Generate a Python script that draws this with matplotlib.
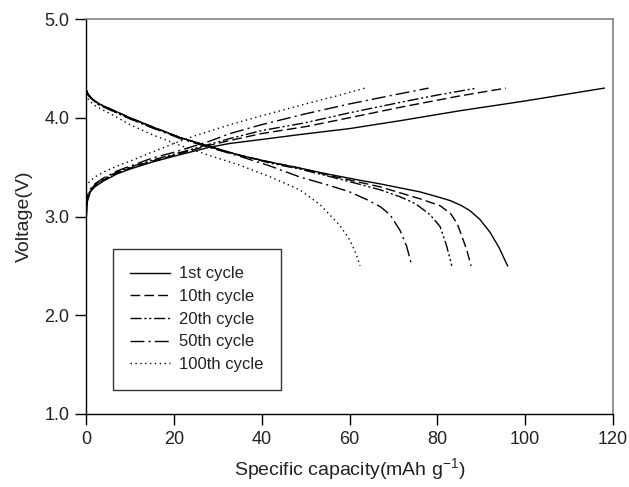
import matplotlib
matplotlib.use("Agg")
import matplotlib.pyplot as plt

plt.rcParams['font.family'] = ['Liberation Sans', 'DejaVu Sans']

labels = ["1st cycle", "10th cycle", "20th cycle", "50th cycle", "100th cycle"]

# Charge curves
c1_x = [0, 0.3, 1, 2, 4, 7, 10, 15, 20, 28, 32.8, 40, 48.7, 60, 71.5, 85, 100, 118]
c1_v = [2.93, 3.15, 3.25, 3.30, 3.36, 3.43, 3.48, 3.55, 3.61, 3.70, 3.74, 3.78, 3.83, 3.89, 3.97, 4.07, 4.17, 4.30]
c10_x = [0, 0.3, 1, 2, 4, 7, 10, 15, 20, 28, 32.8, 40, 50, 60, 72, 85, 95.6]
c10_v = [2.98, 3.17, 3.26, 3.31, 3.37, 3.44, 3.49, 3.56, 3.62, 3.72, 3.77, 3.84, 3.91, 4.00, 4.11, 4.22, 4.30]
c20_x = [0, 0.3, 1, 2, 4, 7, 10, 15, 20, 28, 32.8, 40, 50, 60, 72, 80, 89]
c20_v = [3.05, 3.19, 3.27, 3.32, 3.38, 3.45, 3.50, 3.57, 3.63, 3.73, 3.79, 3.87, 3.95, 4.05, 4.16, 4.23, 4.30]
c50_x = [0, 0.3, 1, 2, 4, 7, 10, 15, 20, 28, 32.8, 40, 50, 60, 70, 78]
c50_v = [3.10, 3.21, 3.28, 3.33, 3.39, 3.46, 3.51, 3.59, 3.65, 3.76, 3.84, 3.93, 4.04, 4.14, 4.23, 4.30]
c100_x = [0, 0.3, 1, 2, 4, 7, 10, 15, 20, 25, 32.8, 40, 50, 57, 63.5]
c100_v = [3.30, 3.33, 3.36, 3.40, 3.45, 3.51, 3.56, 3.65, 3.74, 3.82, 3.93, 4.02, 4.14, 4.22, 4.30]

# Discharge curves
d1_x = [0, 0.5, 1.5, 3, 6, 10, 15, 21.4, 28, 35, 42, 48.7, 55, 62, 67, 71.5, 76, 80, 83, 85.5, 87.4, 89.7, 92, 94, 96]
d1_v = [4.29, 4.24, 4.19, 4.14, 4.08, 4.00, 3.91, 3.80, 3.71, 3.62, 3.55, 3.49, 3.43, 3.37, 3.33, 3.29, 3.25, 3.20, 3.16, 3.11, 3.06, 2.97, 2.84, 2.69, 2.50]
d10_x = [0, 0.5, 1.5, 3, 6, 10, 15, 21.4, 28, 35, 42, 48.7, 55, 62, 67, 71.5, 76, 80.6, 83, 84.5, 85.6, 86.7, 87.7]
d10_v = [4.28, 4.23, 4.18, 4.14, 4.08, 4.00, 3.91, 3.80, 3.71, 3.62, 3.55, 3.49, 3.42, 3.35, 3.30, 3.24, 3.18, 3.11, 3.03, 2.93, 2.80, 2.66, 2.50]
d20_x = [0, 0.5, 1.5, 3, 6, 10, 15, 21.4, 28, 35, 42, 48.7, 55, 62, 67, 71.5, 75, 78.3, 80.6, 82, 83.3]
d20_v = [4.28, 4.23, 4.18, 4.13, 4.07, 3.99, 3.90, 3.80, 3.71, 3.62, 3.54, 3.48, 3.41, 3.33, 3.27, 3.20, 3.13, 3.02, 2.90, 2.72, 2.50]
d50_x = [0, 0.5, 1.5, 3, 6, 10, 15, 21.4, 28, 35, 42, 48.7, 55, 60, 64, 67, 69.2, 71.5, 73, 74.2]
d50_v = [4.28, 4.23, 4.18, 4.13, 4.07, 3.99, 3.90, 3.79, 3.70, 3.61, 3.51, 3.40, 3.32, 3.25, 3.17, 3.10, 3.02, 2.86, 2.70, 2.50]
d100_x = [0, 0.5, 1.5, 2.5, 6, 10, 15, 21.4, 28, 35, 42, 48.7, 53.3, 57.8, 60.1, 61.5, 62.4]
d100_v = [4.24, 4.19, 4.14, 4.11, 4.03, 3.93, 3.83, 3.72, 3.62, 3.52, 3.40, 3.27, 3.12, 2.91, 2.76, 2.62, 2.50]

x_ticks = [0, 20, 40, 60, 80, 100, 120]
y_ticks = [1.0, 2.0, 3.0, 4.0, 5.0]
y_ticklabels = ["1.0", "2.0", "3.0", "4.0", "5.0"]

styles = ['-', (0, (7, 3)), (0, (8, 2, 1.5, 2, 1.5, 2)), (0, (10, 3, 1.5, 3)), (0, (1, 2.5))]
charges = [(c1_x, c1_v), (c10_x, c10_v), (c20_x, c20_v), (c50_x, c50_v), (c100_x, c100_v)]
discharges = [(d1_x, d1_v), (d10_x, d10_v), (d20_x, d20_v), (d50_x, d50_v), (d100_x, d100_v)]

fig = plt.figure(figsize=(6.29, 4.87), dpi=100)
ax = fig.add_axes([86/629, 1-414/487, (613-86)/629, (414-19)/487])

handles = []
for (cx, cv), (dx, dv), ls, lab in zip(charges, discharges, styles, labels):
    h, = ax.plot(cx, cv, color='black', lw=1.0, linestyle=ls, label=lab)
    ax.plot(dx, dv, color='black', lw=1.0, linestyle=ls)
    handles.append(h)

ax.set_xlim(0, 120)
ax.set_ylim(1.0, 5.0)
ax.set_xticks(x_ticks)
ax.set_yticks(y_ticks)
ax.set_yticklabels(y_ticklabels)
ax.tick_params(direction='out', length=8, width=1, labelsize=13, colors='black', labelcolor='#222222', pad=4)
for s in ['top', 'right']:
    ax.spines[s].set_color('#808080')
    ax.spines[s].set_linewidth(1.2)
for s in ['left', 'bottom']:
    ax.spines[s].set_color('black')
    ax.spines[s].set_linewidth(1.0)

ax.set_xlabel('Specific capacity(mAh g$^{\\mathregular{-1}}$)', fontsize=14, color='#222222', labelpad=6)
ax.set_ylabel('Voltage(V)', fontsize=14, color='#222222', labelpad=8)

leg = ax.legend(handles=handles, loc='upper left', bbox_to_anchor=(0.051, 0.418),
                borderaxespad=0, fontsize=12, frameon=True, fancybox=False,
                edgecolor='black', handlelength=2.4, handletextpad=0.5,
                labelspacing=0.46, borderpad=1.05)
leg.get_frame().set_linewidth(1.0)
for t in leg.get_texts():
    t.set_color('#222222')

fig.savefig('out.png', dpi=100)
